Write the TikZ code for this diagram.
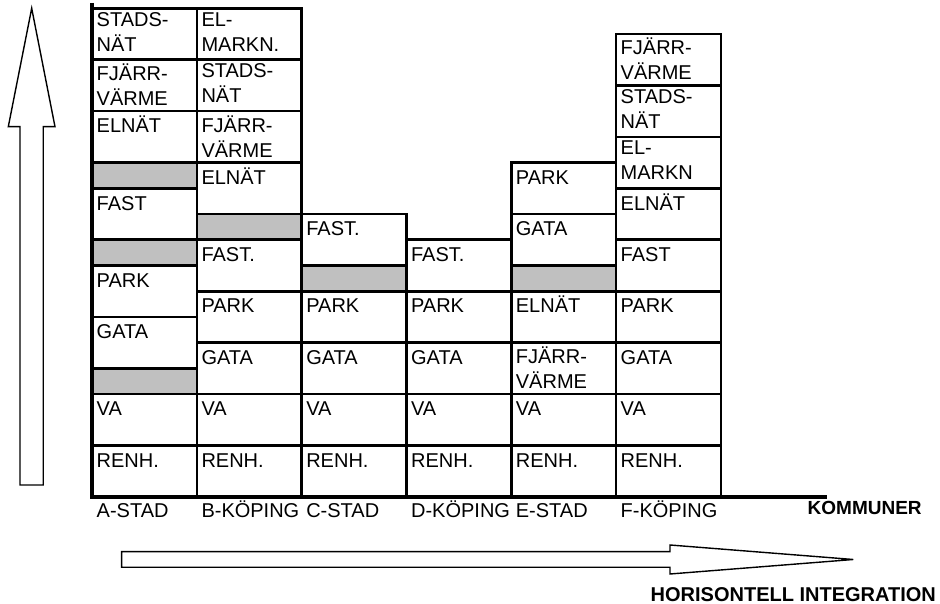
\documentclass[tikz,border=0pt]{standalone}
\usepackage{fontspec}
\setmainfont{Liberation Sans}
\definecolor{cellgray}{RGB}{192,192,192}

\begin{document}
\begin{tikzpicture}[
	x=1pt, y=1pt,
	cell/.style={draw, line width=2.6pt, outer sep=0pt, inner sep=0pt, minimum width=104.8pt, anchor=south west, fill=white},
	blank/.style={cell, fill=cellgray},
	celltext/.style={anchor=north west, inner sep=0pt, align=left, font=\fontsize{20}{25}\selectfont, execute at begin node=\strut},
	town/.style={anchor=base west, inner sep=0pt, font=\fontsize{20}{25}\selectfont},
	axistitle/.style={anchor=base west, inner sep=0pt, font=\fontsize{20}{25}\selectfont\bfseries},
	blockarrow/.style={draw, line width=1.4pt, fill=white}
	]
	\useasboundingbox (-92,-107) rectangle (848,497);
	
	% Services per municipality (column/bottom/top/text, in rows of 51.44pt)
	\foreach \x/\lo/\hi/\txt [count=\k] in {
		1/0/1/RENH., 1/1/2/VA, 1/2.5/3.5/GATA, 1/3.5/4.5/PARK, 1/5/6/FAST,
		1/6.5/7.5/ELNÄT, 1/7.5/8.5/{FJÄRR-\\VÄRME}, 1/8.5/9.5/{STADS-\\NÄT},
		2/0/1/RENH., 2/1/2/VA, 2/2/3/GATA, 2/3/4/PARK, 2/4/5/FAST.,
		2/5.5/6.5/ELNÄT, 2/6.5/7.5/{FJÄRR-\\VÄRME}, 2/7.5/8.5/{STADS-\\NÄT}, 2/8.5/9.5/{EL-\\MARKN.},
		3/0/1/RENH., 3/1/2/VA, 3/2/3/GATA, 3/3/4/PARK, 3/4.5/5.5/FAST.,
		4/0/1/RENH., 4/1/2/VA, 4/2/3/GATA, 4/3/4/PARK, 4/4/5/FAST.,
		5/0/1/RENH., 5/1/2/VA, 5/2/3/{FJÄRR-\\VÄRME}, 5/3/4/ELNÄT, 5/4.5/5.5/GATA, 5/5.5/6.5/PARK,
		6/0/1/RENH., 6/1/2/VA, 6/2/3/GATA, 6/3/4/PARK, 6/4/5/FAST,
		6/5/6/ELNÄT, 6/6/7/{EL-\\MARKN}, 6/7/8/{STADS-\\NÄT}, 6/8/9/{FJÄRR-\\VÄRME}} {
		\pgfmathsetmacro\hgt{(\hi-\lo)*51.44}
		\node[cell, minimum height=\hgt pt] (cell\k) at ({(\x-1)*104.8}, {\lo*51.44}) {};
		\node[celltext] (text\k) at ([shift={(4.5,-4)}]cell\k.north west) {\txt};
	}
	
	% Missing services (grey)
	\foreach \x/\lo [count=\k] in {1/2, 1/4.5, 1/6, 2/5, 3/4, 5/4}
		\node[blank, minimum height=25.72pt] (gap\k) at ({(\x-1)*104.8}, {\lo*51.44}) {};
	
	% Axes
	\draw[line width=4pt] (0,494) -- (0,0) -- (734.7,0);
	
	% Municipality names
	\foreach \x/\name in {1/A-STAD, 2/B-KÖPING, 3/C-STAD, 4/D-KÖPING, 5/E-STAD, 6/F-KÖPING}
		\node[town] (town\x) at ({(\x-1)*104.8+4.5}, -21) {\name};
	\node[axistitle, font=\fontsize{19}{25}\selectfont\bfseries] (kommuner) at (715.5,-18) {KOMMUNER};
	
	% Integration arrows
	\draw[blockarrow] (-72,12) -- (-72,370.3) -- (-83.7,370.3) -- (-60.3,488.7)
		-- (-37,370.3) -- (-48.7,370.3) -- (-48.7,12) -- cycle;
	\draw[blockarrow] (29.7,-54.7) -- (578,-54.7) -- (578,-48) -- (761.3,-62.5)
		-- (578,-77) -- (578,-70.3) -- (29.7,-70.3) -- cycle;
	\node[axistitle] (horisontell) at (558.5,-104.5) {HORISONTELL INTEGRATION};
	
\end{tikzpicture}
\end{document}
